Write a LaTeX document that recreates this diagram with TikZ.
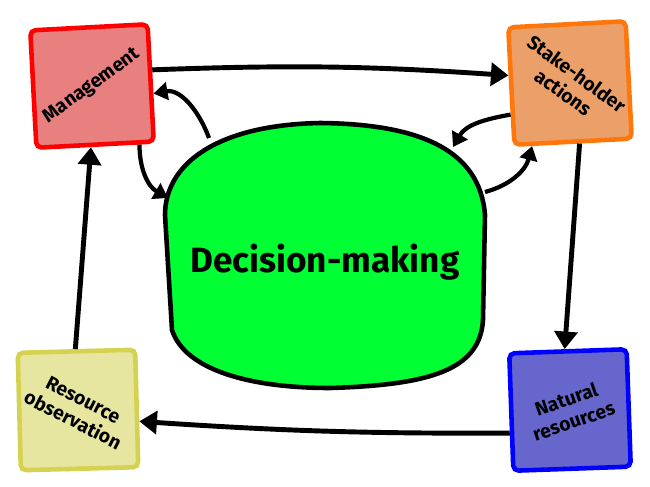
\documentclass[tikz,border=0pt]{standalone}
\usepackage{fontspec}
\setsansfont{Fira Sans}
\usetikzlibrary{positioning, arrows.meta}
\definecolor{mgmtfill}{RGB}{233,128,128}
\definecolor{stakefill}{RGB}{236,160,105}
\definecolor{stakedraw}{RGB}{255,118,10}
\definecolor{obsfill}{RGB}{230,230,160}
\definecolor{obsdraw}{RGB}{212,210,80}
\definecolor{natfill}{RGB}{102,102,204}
\definecolor{blobfill}{RGB}{0,255,51}
\tikzset{
    card/.style={rectangle, line width=2.6pt, rounded corners=3pt, minimum size=2.35cm, inner sep=0pt},
    mgmt/.style={card, draw=red, fill=mgmtfill, rotate=3},
    stake/.style={card, draw=stakedraw, fill=stakefill, rotate=3},
    obs/.style={card, draw=obsdraw, fill=obsfill, rotate=1.5},
    nat/.style={card, draw=blue, fill=natfill, rotate=2},
    lbl/.style={font=\sffamily\bfseries\fontsize{11}{13}\selectfont, align=center, inner sep=0pt},
    blob/.style={draw=black, fill=blobfill, line width=2.6pt},
    feed/.style={-{Triangle[length=10pt, width=13pt]}, line width=2.8pt},
    swirl/.style={-{Triangle[length=8pt, width=10pt]}, line width=2.4pt},
}

\begin{document}
\begin{tikzpicture}[x=0.02cm, y=-0.02cm]
                        \useasboundingbox (0,0) rectangle (650,487);
                        % the green blob in the middle
                        \draw [blob] (165,215) .. controls (165,165) and (215,125) .. (320,123)
                            .. controls (420,124) and (480,150) .. (485,215) -- (483,320)
                            .. controls (480,370) and (430,385) .. (330,388)
                            .. controls (250,388) and (185,370) .. (172,330) -- cycle;
                        \node [lbl, font=\sffamily\bfseries\fontsize{20}{24}\selectfont] (dm) at (325,262) {Decision-making};
                        \coordinate (dmA) at (209,138);
                        \coordinate (dmB) at (168,198);
                        \coordinate (dmC) at (453,147);
                        \coordinate (dmD) at (485,192);
                        % the four cards
                        \node [mgmt] (man) at (92,86) {};
                        \node [stake] (sta) at (570,83) {};
                        \node [obs] (obs) at (78,410) {};
                        \node [nat] (nat) at (570,410) {};
                        \node [lbl, rotate=36] (manl) at (man.center) {Management};
                        \node [lbl, rotate=-36] (stal) at (sta.center) {Stake-holder\\actions};
                        \node [lbl, rotate=-27] (obsl) at (obs.center) {Resource\\observation};
                        \node [lbl, rotate=19] (natl) at (nat.center) {Natural\\resources};
                        % outer cycle
                        \draw [feed] (man.12) to [bend left=3] (sta.170);
                        \draw [feed] (sta.-84) -- (nat.93);
                        \draw [feed] (nat.199) to [bend left=2] (obs.-12);
                        \draw [feed] (obs.91) -- (man.-94);
                        % to and from decision-making
                        \draw [swirl] (dmA) to [out=110, in=10] (man.-10);
                        \draw [swirl] (man.-54) to [out=-90, in=150] (dmB);
                        \draw [swirl] (sta.205) to [out=190, in=60] (dmC);
                        \draw [swirl] (dmD) to [out=15, in=-105] (sta.-124);
                    \end{tikzpicture}
\end{document}
